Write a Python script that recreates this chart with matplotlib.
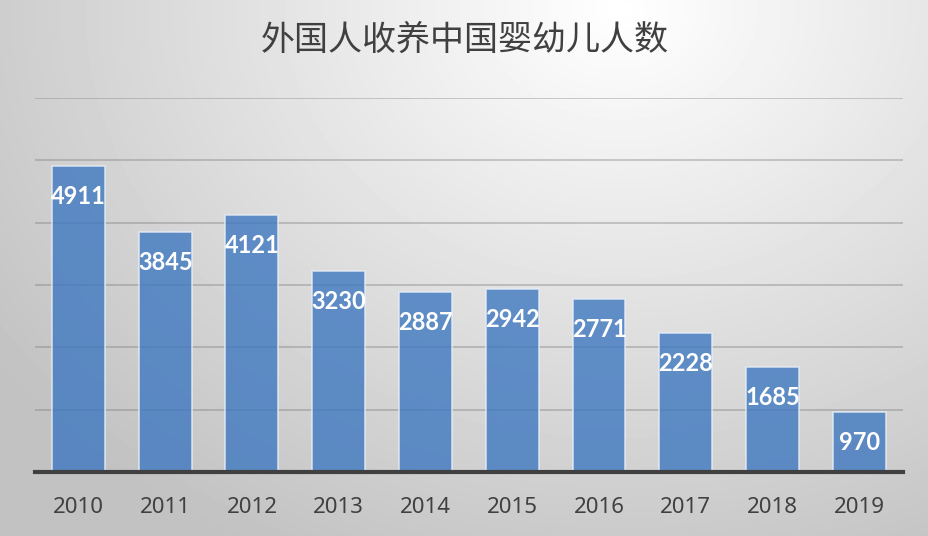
import matplotlib.pyplot as plt
import numpy as np

plt.rcParams["font.family"] = ["Noto Sans CJK SC", "DejaVu Sans"]

years = ["2010", "2011", "2012", "2013", "2014", "2015", "2016", "2017", "2018", "2019"]
counts = [4911, 3845, 4121, 3230, 2887, 2942, 2771, 2228, 1685, 970]
title = "外国人收养中国婴幼儿人数"

fig = plt.figure(figsize=(9.29, 5.36), dpi=100)

# radial gradient background
bg = fig.add_axes([0, 0, 1, 1], zorder=0)
yy, xx = np.mgrid[0:536, 0:929]
r = np.sqrt(((xx - 620) / 700.0) ** 2 + ((yy - 10) / 560.0) ** 2)
shade = np.clip(1.0 - 0.22 * r, 0.76, 1.0)
bg.imshow(shade, cmap="gray", vmin=0, vmax=1, aspect="auto", extent=[0, 1, 0, 1])
bg.axis("off")

ax = fig.add_axes([0.0377, 0.1194, 0.934, 0.698], zorder=1)
ax.patch.set_alpha(0)
xpos = np.arange(len(years))
ax.bar(xpos, counts, width=0.61, color="#3f78c0", alpha=0.8,
       edgecolor="#e8eef8", linewidth=1.2, zorder=3)
for x, v in zip(xpos, counts):
    ax.annotate(str(v), (x, v), xytext=(0, -22), textcoords="offset points",
                ha="center", va="center", color="white", fontsize=17,
                fontweight="bold", family="Lato", zorder=4)

ax.set_ylim(0, 6000)
ax.set_xlim(-0.5, len(years) - 0.5)
ax.set_yticks(range(0, 7000, 1000))
ax.yaxis.grid(True, color="#7a7a7a", alpha=0.4, linewidth=1.3, zorder=1)
ax.set_axisbelow(True)
ax.tick_params(axis="y", left=False, labelleft=False)
ax.tick_params(axis="x", length=0, pad=18, labelsize=16, labelcolor="#404040")
ax.set_xticks(xpos)
ax.set_xticklabels(years, family="Noto Sans")
for side in ("top", "right", "left"):
    ax.spines[side].set_visible(False)
ax.spines["bottom"].set_color("#404040")
ax.spines["bottom"].set_linewidth(3)
ax.spines["bottom"].set_zorder(5)

fig.text(0.5, 0.925, title, ha="center", va="center", fontsize=24.5, color="#404040")

fig.savefig("out.png", dpi=100)
